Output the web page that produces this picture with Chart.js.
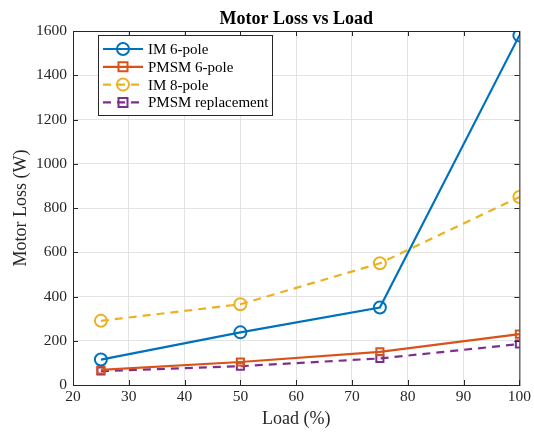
<!DOCTYPE html>
<html>
<head>
<meta charset="utf-8">
<script src="https://cdn.jsdelivr.net/npm/chart.js@4"></script>
<style>
  html, body { margin: 0; padding: 0; background: #fff; }
  #wrap { width: 534px; height: 432px; }
</style>
</head>
<body>
<div id="wrap"><canvas id="lossChart" width="534" height="432"></canvas></div>
<script>
// -- data --
const loadPct = [25, 50, 75, 100];
const im6 = [115, 238, 350, 1580];
const pmsm6 = [68, 104, 150, 230];
const im8 = [290, 365, 550, 850];
const pmsmRepl = [63, 85, 120, 185];
const xTicks = [20, 30, 40, 50, 60, 70, 80, 90, 100];
const yTicks = [0, 200, 400, 600, 800, 1000, 1200, 1400, 1600];
const chartTitle = 'Motor Loss vs Load';

const FONT = "'Liberation Serif', 'Times New Roman', serif";
const AXIS = '#262626';

const toXY = vals => vals.map((v, i) => ({ x: loadPct[i], y: v }));

const makeSet = (label, vals, color, style, dashed) => ({
  label,
  data: toXY(vals),
  borderColor: color,
  backgroundColor: color,
  borderWidth: 2.2,
  borderDash: dashed ? [8, 6] : [],
  pointStyle: style,
  pointRadius: style === 'rect' ? 5 : 6,
  pointBorderWidth: 2,
  pointBackgroundColor: 'rgba(0,0,0,0)',
  pointBorderColor: color,
  tension: 0
});

// box + inward ticks + title over the plot, like a matlab axes
const boxPlugin = {
  id: 'boxTicks',
  afterDraw(chart) {
    const { ctx, chartArea: a, scales: { x, y } } = chart;
    ctx.save();
    ctx.strokeStyle = AXIS;
    ctx.lineWidth = 1;
    ctx.strokeRect(a.left + 0.5, a.top + 0.5, a.right - a.left, a.bottom - a.top);
    const len = 5;
    ctx.beginPath();
    xTicks.forEach(t => {
      const px = Math.round(x.getPixelForValue(t)) + 0.5;
      ctx.moveTo(px, a.bottom); ctx.lineTo(px, a.bottom - len);
      ctx.moveTo(px, a.top); ctx.lineTo(px, a.top + len);
    });
    yTicks.forEach(t => {
      const py = Math.round(y.getPixelForValue(t)) + 0.5;
      ctx.moveTo(a.left, py); ctx.lineTo(a.left + len, py);
      ctx.moveTo(a.right, py); ctx.lineTo(a.right - len, py);
    });
    ctx.stroke();

    ctx.fillStyle = '#000';
    ctx.font = 'bold 18px ' + FONT;
    ctx.textAlign = 'center';
    ctx.textBaseline = 'alphabetic';
    ctx.fillText(chartTitle, (a.left + a.right) / 2, a.top - 7);
    ctx.restore();
  }
};

// legend box inside the plot, top left
const legendPlugin = {
  id: 'boxLegend',
  afterDraw(chart) {
    const { ctx, chartArea: a } = chart;
    const bx = a.left + 25, by = a.top + 4, bw = 174, bh = 80;
    ctx.save();
    ctx.fillStyle = '#fff';
    ctx.fillRect(bx, by, bw, bh);
    ctx.strokeStyle = AXIS;
    ctx.lineWidth = 1;
    ctx.strokeRect(bx + 0.5, by + 0.5, bw, bh);
    ctx.font = '15px ' + FONT;
    ctx.textBaseline = 'middle';
    chart.data.datasets.forEach((ds, i) => {
      const cy = by + 14 + i * 17.8;
      const x0 = bx + 5, x1 = bx + 45, mx = (x0 + x1) / 2;
      ctx.strokeStyle = ds.borderColor;
      ctx.lineWidth = 2.2;
      ctx.setLineDash(ds.borderDash);
      ctx.beginPath();
      ctx.moveTo(x0, cy); ctx.lineTo(x1, cy);
      ctx.stroke();
      ctx.setLineDash([]);
      ctx.lineWidth = 2;
      ctx.beginPath();
      if (ds.pointStyle === 'rect') {
        ctx.rect(mx - 4.5, cy - 4.5, 9, 9);
      } else {
        ctx.arc(mx, cy, 6, 0, Math.PI * 2);
      }
      ctx.stroke();
      ctx.fillStyle = '#000';
      ctx.fillText(ds.label, bx + 50, cy + 1);
    });
    ctx.restore();
  }
};

new Chart(document.getElementById('lossChart'), {
  type: 'line',
  data: {
    datasets: [
      makeSet('IM 6-pole', im6, '#0072BD', 'circle', false),
      makeSet('PMSM 6-pole', pmsm6, '#D95319', 'rect', false),
      makeSet('IM 8-pole', im8, '#EDB120', 'circle', true),
      makeSet('PMSM replacement', pmsmRepl, '#7E2F8E', 'rect', true)
    ]
  },
  options: {
    responsive: false,
    animation: false,
    layout: { padding: { left: 10, right: 14, top: 31, bottom: 0 } },
    plugins: {
      legend: { display: false },
      tooltip: { enabled: false },
      title: { display: false }
    },
    scales: {
      x: {
        type: 'linear',
        min: 20, max: 100,
        afterBuildTicks: s => { s.ticks = xTicks.map(v => ({ value: v })); },
        ticks: { color: AXIS, font: { family: FONT, size: 15.5 }, padding: 3, maxRotation: 0, callback: v => String(v) },
        grid: { color: '#e3e3e3', drawTicks: false, tickLength: 0 },
        border: { display: false },
        title: { display: true, text: 'Load (%)', color: AXIS, font: { family: FONT, size: 18 }, padding: { top: 1, bottom: 2 } },
        afterFit: s => { s.height = 47; }
      },
      y: {
        min: 0, max: 1600,
        afterBuildTicks: s => { s.ticks = yTicks.map(v => ({ value: v })); },
        ticks: { color: AXIS, font: { family: FONT, size: 15.5 }, padding: 6, callback: v => String(v) },
        grid: { color: '#e3e3e3', drawTicks: false, tickLength: 0 },
        border: { display: false },
        title: { display: true, text: 'Motor Loss (W)', color: AXIS, font: { family: FONT, size: 18 }, padding: { top: 0, bottom: 6 } },
        afterFit: s => { s.width = 63; }
      }
    }
  },
  plugins: [boxPlugin, legendPlugin]
});
</script>
</body>
</html>
